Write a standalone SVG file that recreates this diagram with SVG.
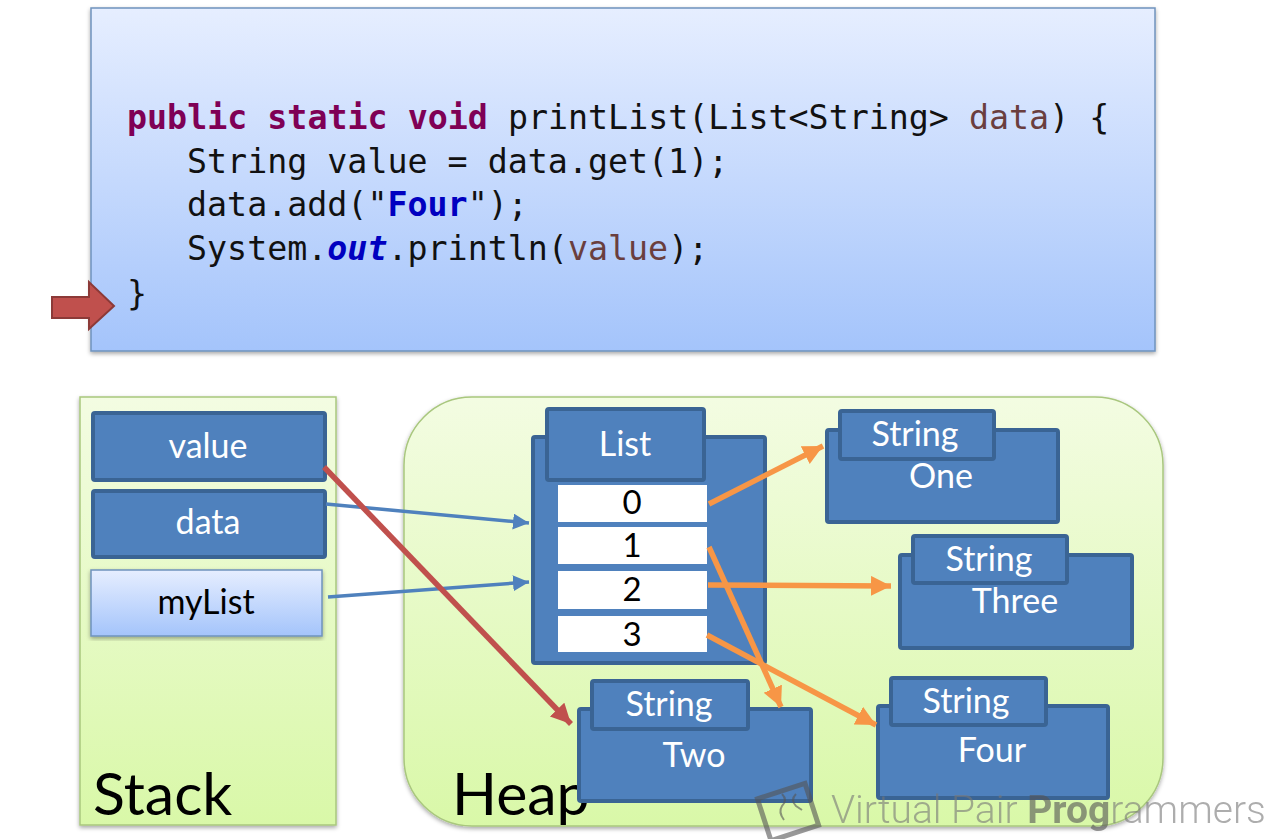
<svg xmlns="http://www.w3.org/2000/svg" width="1287" height="839" viewBox="0 0 1287 839">
<defs>
<linearGradient id="blueGrad" x1="0" y1="0" x2="0" y2="1"><stop offset="0" stop-color="#e6eeff"/><stop offset="1" stop-color="#a4c4fb"/></linearGradient>
<linearGradient id="greenGrad" x1="0" y1="0" x2="0" y2="1"><stop offset="0" stop-color="#f3fce2"/><stop offset="1" stop-color="#d9f8a8"/></linearGradient>
<filter id="sh" x="-5%" y="-5%" width="110%" height="112%"><feDropShadow dx="0" dy="2" stdDeviation="2" flood-color="#000" flood-opacity="0.35"/></filter>
<marker id="aO" markerUnits="userSpaceOnUse" markerWidth="22" markerHeight="22" refX="20" refY="10" orient="auto"><path d="M0 0L20 10L0 20Z" fill="#f79646"/></marker>
<marker id="aB" markerUnits="userSpaceOnUse" markerWidth="18" markerHeight="18" refX="16" refY="8" orient="auto"><path d="M0 0L16 8L0 16Z" fill="#4f81bd"/></marker>
<marker id="aR" markerUnits="userSpaceOnUse" markerWidth="22" markerHeight="22" refX="20" refY="10" orient="auto"><path d="M0 0L20 10L0 20Z" fill="#c0504d"/></marker>
</defs>
<style>
.box{fill:#4f81bd;stroke:#3a6494;stroke-width:4}
.lab{font-family:Lato,"Open Sans",sans-serif;font-size:34px;fill:#fff;text-anchor:middle}
.cell{fill:#fff}
.num{font-family:Lato,"Open Sans",sans-serif;font-size:33px;fill:#000;text-anchor:middle}
.code{font-family:"DejaVu Sans Mono",monospace;font-size:33.3px;fill:#111}
.kw{fill:#7f0055;font-weight:bold}
.var{fill:#6a3e3e}
.lit{fill:#0000c0;font-weight:bold}
.con{fill:none;stroke-width:5.5}
.conb{fill:none;stroke-width:3.5}
</style>
<rect width="1287" height="839" fill="#fff"/>

<g id="code-panel">
<rect x="91" y="8" width="1064" height="343" fill="url(#blueGrad)" stroke="#6f93bd" stroke-width="1.5" filter="url(#sh)"/>
<text class="code" y="129" x="127"><tspan class="kw">public static void</tspan> printList(List&lt;String&gt; <tspan class="var">data</tspan>) {</text>
<text class="code" y="173" x="187">String value = data.get(1);</text>
<text class="code" y="216" x="187">data.add("<tspan class="lit">Four</tspan>");</text>
<text class="code" y="260" x="187">System.<tspan fill="#0000c0" font-weight="bold" font-style="italic">out</tspan>.println(<tspan class="var">value</tspan>);</text>
<text class="code" y="305" x="127">}</text>
</g>
<g id="pointer">
<path d="M52 297H89V282L114 306L89 329V318H52Z" fill="#c0504d" stroke="#8c3a38" stroke-width="2"/>
</g>

<g id="stack">
<rect x="80" y="397" width="256" height="428" fill="url(#greenGrad)" stroke="#a9c77e" stroke-width="1.5" filter="url(#sh)"/>
<text x="93" y="815" font-family="Lato,'Open Sans',sans-serif" font-size="59" fill="#000">Stack</text>
</g>
<g id="heap">
<rect x="404" y="397" width="759" height="429" rx="68" fill="url(#greenGrad)" stroke="#a9c77e" stroke-width="1.5" filter="url(#sh)"/>
<text x="452" y="815" font-family="Lato,'Open Sans',sans-serif" font-size="59" fill="#000">Heap</text>
</g>

<g id="value"><rect class="box" x="93" y="413" width="232" height="67" rx="2"/><text class="lab" x="208" y="458">value</text></g>
<g id="data"><rect class="box" x="93" y="491" width="232" height="66" rx="2"/><text class="lab" x="208" y="534">data</text></g>
<g id="myList"><rect x="91" y="570" width="231" height="66" fill="url(#blueGrad)" stroke="#6f93bd" stroke-width="1.5" filter="url(#sh)"/><text class="lab" x="206" y="614" style="fill:#000">myList</text></g>

<g id="list">
<rect class="box" x="533" y="437" width="232" height="226" rx="2"/>
<rect class="box" x="547" y="409" width="157" height="71" rx="2"/>
<text class="lab" x="625" y="456">List</text>
<rect class="cell" x="558" y="485" width="149" height="37"/><text class="num" x="632" y="514">0</text>
<rect class="cell" x="558" y="527" width="149" height="37"/><text class="num" x="632" y="557">1</text>
<rect class="cell" x="558" y="571" width="149" height="38"/><text class="num" x="632" y="601">2</text>
<rect class="cell" x="558" y="616" width="149" height="36"/><text class="num" x="632" y="646">3</text>
</g>

<g id="string-one">
<rect class="box" x="827" y="430" width="231" height="92" rx="2"/>
<rect class="box" x="840" y="411" width="154" height="48" rx="2"/>
<text class="lab" x="915" y="446">String</text><text class="lab" x="941" y="488">One</text>
</g>
<g id="string-three">
<rect class="box" x="900" y="555" width="232" height="93" rx="2"/>
<rect class="box" x="913" y="536" width="154" height="47" rx="2"/>
<text class="lab" x="989" y="571">String</text><text class="lab" x="1015" y="613">Three</text>
</g>
<g id="string-two">
<rect class="box" x="579" y="709" width="232" height="92" rx="2"/>
<rect class="box" x="592" y="681" width="156" height="48" rx="2"/>
<text class="lab" x="669" y="716">String</text><text class="lab" x="694" y="767">Two</text>
</g>
<g id="string-four">
<rect class="box" x="878" y="706" width="230" height="92" rx="2"/>
<rect class="box" x="891" y="678" width="155" height="47" rx="2"/>
<text class="lab" x="966" y="713">String</text><text class="lab" x="992" y="762">Four</text>
</g>

<g id="connectors">
<line class="con" stroke="#f79646" x1="709" y1="504" x2="823" y2="446" marker-end="url(#aO)"/>
<line class="con" stroke="#f79646" x1="709" y1="547" x2="781" y2="707" marker-end="url(#aO)"/>
<line class="con" stroke="#f79646" x1="708" y1="585" x2="891" y2="586" marker-end="url(#aO)"/>
<line class="con" stroke="#f79646" x1="707" y1="635" x2="876" y2="725" marker-end="url(#aO)"/>
<line class="conb" stroke="#4f81bd" x1="326" y1="504" x2="529" y2="523" marker-end="url(#aB)"/>
<line class="conb" stroke="#4f81bd" x1="328" y1="597" x2="529" y2="582" marker-end="url(#aB)"/>
<line class="con" stroke="#c0504d" x1="324" y1="467" x2="571" y2="724" marker-end="url(#aR)"/>
</g>

<g id="watermark" opacity="0.6">
<rect x="763" y="790" width="50" height="44" fill="none" stroke="#555" stroke-width="5" transform="rotate(-18 788 812)"/>
<path d="M782 794q6 6 0 12q-4 6 2 14M796 794q-6 6 0 12l6 4" fill="none" stroke="#555" stroke-width="2"/>
<text x="831" y="823" font-family="Roboto,sans-serif" font-size="39" fill="#777" font-weight="300">Virtual Pair <tspan font-weight="700" fill="#555">Prog</tspan>rammers</text>
</g>
</svg>
